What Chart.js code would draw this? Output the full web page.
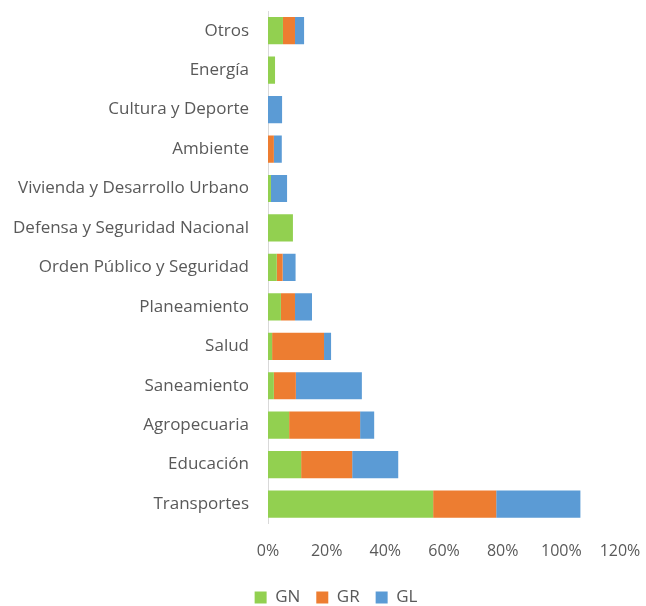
<!DOCTYPE html>
<html>
<head>
<meta charset="utf-8">
<script src="https://cdn.jsdelivr.net/npm/chart.js@4"></script>
<style>
  html, body { margin: 0; padding: 0; background: #fff; }
  #wrap { width: 646px; height: 606px; }
</style>
</head>
<body>
<div id="wrap"><canvas id="chart" width="646" height="606"></canvas></div>
<script>
const categories = ['Otros', 'Energía', 'Cultura y Deporte', 'Ambiente', 'Vivienda y Desarrollo Urbano',
  'Defensa y Seguridad Nacional', 'Orden Público y Seguridad', 'Planeamiento', 'Salud', 'Saneamiento',
  'Agropecuaria', 'Educación', 'Transportes'];
const gn = [5.1, 2.4, 0, 0, 1.0, 8.5, 3.0, 4.4, 1.4, 2.0, 7.2, 11.3, 56.3];
const gr = [4.1, 0, 0, 2.0, 0, 0, 2.0, 4.8, 17.7, 7.5, 24.2, 17.4, 21.5];
const gl = [3.1, 0, 4.8, 2.7, 5.5, 0, 4.4, 5.8, 2.4, 22.5, 4.8, 15.7, 28.7];
const xTicks = [0, 20, 40, 60, 80, 100, 120];

const textColor = '#595959';

// the legend sits a bit right of the canvas centre in the original
const legendShift = {
  id: 'legendShift',
  afterLayout(chart) {
    const lg = chart.legend;
    lg.left += 26; lg.right += 26;
    lg.top += 2; lg.bottom += 2;
  }
};

new Chart(document.getElementById('chart'), {
  type: 'bar',
  data: {
    labels: categories,
    datasets: [
      { label: 'GN', data: gn, backgroundColor: '#92D050' },
      { label: 'GR', data: gr, backgroundColor: '#ED7D31' },
      { label: 'GL', data: gl, backgroundColor: '#5B9BD5' }
    ].map(d => ({ ...d, categoryPercentage: 1, barPercentage: 0.69, borderWidth: 0 }))
  },
  options: {
    indexAxis: 'y',
    responsive: false, animation: false,
    layout: { padding: { top: 11, right: 26, left: 0, bottom: -8 } },
    plugins: {
      legend: {
        position: 'bottom',
        labels: { font: { family: 'Open Sans', size: 17 }, color: textColor, boxWidth: 12, boxHeight: 12, padding: 16 }
      },
      tooltip: { enabled: false }
    },
    scales: {
      x: {
        stacked: true, min: 0, max: 120,
        afterBuildTicks: axis => { axis.ticks = xTicks.map(v => ({ value: v })); },
        afterFit: axis => { axis.paddingLeft = 0; axis.paddingRight = 0; },
        grid: { display: false },
        border: { display: false },
        ticks: { font: { family: 'Open Sans', size: 16 }, color: textColor, padding: 10, callback: v => v + '%' }
      },
      y: {
        stacked: true,
        grid: { display: false },
        border: { display: true, color: '#D9D9D9', width: 1 },
        ticks: { font: { family: 'Open Sans', size: 17 }, color: textColor, padding: 11 },
        afterFit: axis => { axis.width = 268; axis.paddingTop = 0; axis.paddingBottom = 0; }
      }
    }
  },
  plugins: [legendShift]
});
</script>
</body>
</html>
